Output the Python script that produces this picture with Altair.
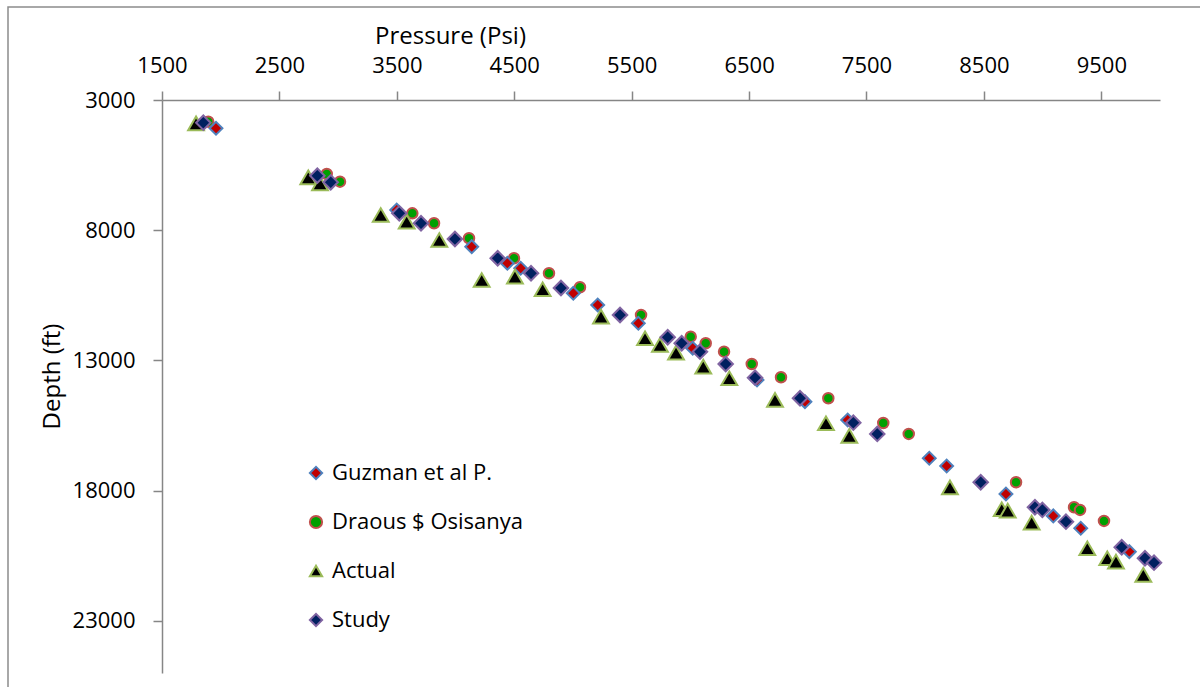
import altair as alt
import pandas as pd

series_order = ["Guzman et al P.", "Draous $ Osisanya", "Actual", "Study"]

guzman_p = [1960, 3499, 4138, 4441, 4555, 5003, 5211, 5557, 6020, 6568, 6976, 7340, 8035, 8183, 8688, 9091, 9325, 9739]
guzman_d = [4086, 7223, 8632, 9269, 9461, 10421, 10870, 11573, 12532, 13749, 14582, 15285, 16755, 17051, 18126, 18970, 19443, 20341]

draous_p = [1894, 2903, 3016, 3632, 3817, 4115, 4498, 4796, 5060, 5580, 6003, 6131, 6287, 6523, 6772, 7175, 7643, 7860, 8774, 9268, 9319, 9523]
draous_d = [3833, 5841, 6136, 7350, 7733, 8309, 9077, 9653, 10190, 11254, 12087, 12340, 12663, 13135, 13646, 14452, 15401, 15822, 17677, 18636, 18740, 19162]

actual_p = [1790, 2746, 2846, 3363, 3584, 3862, 4223, 4506, 4742, 5239, 5614, 5741, 5878, 6110, 6332, 6721, 7155, 7354, 8211, 8652, 8703, 8907, 9381, 9551, 9625, 9858]
actual_d = [3895, 5968, 6198, 7415, 7672, 8375, 9910, 9783, 10267, 11319, 12148, 12406, 12701, 13239, 13684, 14517, 15412, 15899, 17876, 18713, 18767, 19228, 20210, 20594, 20725, 21235]

study_p = [1852, 2823, 2937, 3521, 3706, 3995, 4359, 4643, 4898, 5401, 5807, 5926, 6082, 6301, 6551, 6934, 7388, 7592, 8473, 8935, 8998, 9199, 9674, 9872, 9949]
study_d = [3871, 5906, 6160, 7350, 7733, 8336, 9077, 9653, 10217, 11254, 12110, 12340, 12663, 13135, 13661, 14452, 15389, 15822, 17677, 18636, 18740, 19189, 20172, 20594, 20764]

x_ticks = [1500, 2500, 3500, 4500, 5500, 6500, 7500, 8500, 9500]
y_ticks = [3000, 8000, 13000, 18000, 23000]

marker_size = {"Guzman et al P.": 165, "Draous $ Osisanya": 110, "Actual": 250, "Study": 210}

rows = []
for name, ps, ds in [
    ("Draous $ Osisanya", draous_p, draous_d),
    ("Guzman et al P.", guzman_p, guzman_d),
    ("Actual", actual_p, actual_d),
    ("Study", study_p, study_d),
]:
    for p, d in zip(ps, ds):
        rows.append({"series": name, "pressure": p, "depth": d, "msize": marker_size[name]})
df = pd.DataFrame(rows)

FONT = "Open Sans"
AXIS_GREY = "#868686"

points = alt.Chart(df).mark_point(filled=True, strokeWidth=2, opacity=1).encode(
    x=alt.X("pressure:Q",
            scale=alt.Scale(domain=[1500, 10000], nice=False, zero=False),
            axis=alt.Axis(orient="top", values=x_ticks, format="d", title="Pressure (Psi)",
                          titleX=288, titleY=-64, titleBaseline="middle",
                          labelPadding=14, labelFlush=False)),
    y=alt.Y("depth:Q",
            scale=alt.Scale(domain=[3000, 25000], reverse=True, nice=False, zero=False),
            axis=alt.Axis(values=y_ticks, format="d", title="Depth (ft)",
                          titleX=-110, titleY=276, titleBaseline="middle",
                          labelPadding=18)),
    shape=alt.Shape("series:N", title=None,
                    scale=alt.Scale(domain=series_order,
                                    range=["diamond", "circle", "triangle-up", "diamond"])),
    fill=alt.Fill("series:N", title=None,
                  scale=alt.Scale(domain=series_order,
                                  range=["#C00000", "#00A000", "#000000", "#002060"])),
    stroke=alt.Stroke("series:N", title=None,
                      scale=alt.Scale(domain=series_order,
                                      range=["#4F81BD", "#C0504D", "#9BBB59", "#8064A2"])),
    size=alt.Size("msize:Q", scale=None),
)

frame = alt.Chart(pd.DataFrame({"a": [0]})).mark_rect(
    fill="transparent", stroke="#8c8c8c", strokeWidth=1.5
).encode(
    x=alt.value(-154), x2=alt.value(1060), y=alt.value(-93), y2=alt.value(600)
)

chart = alt.layer(frame, points).properties(
    width=998, height=573,
    autosize=alt.AutoSizeParams(type="none"),
    padding={"left": 162, "top": 100, "right": 40, "bottom": 14},
).configure_view(stroke=None).configure_axis(
    grid=False,
    domainColor=AXIS_GREY, domainWidth=1.5,
    tickColor=AXIS_GREY, tickWidth=1.5, tickSize=9,
    labelFont=FONT, labelFontSize=22, labelColor="#000000",
    titleFont=FONT, titleFontSize=24, titleColor="#000000", titleFontWeight="normal",
).configure_legend(
    orient="none", legendX=143, legendY=362,
    labelFont=FONT, labelFontSize=22, labelColor="#000000", labelLimit=0,
    symbolSize=150, symbolStrokeWidth=2, rowPadding=27, labelOffset=5, padding=0,
)

chart.save("out.html", embed_options={"renderer": "svg", "actions": False})
